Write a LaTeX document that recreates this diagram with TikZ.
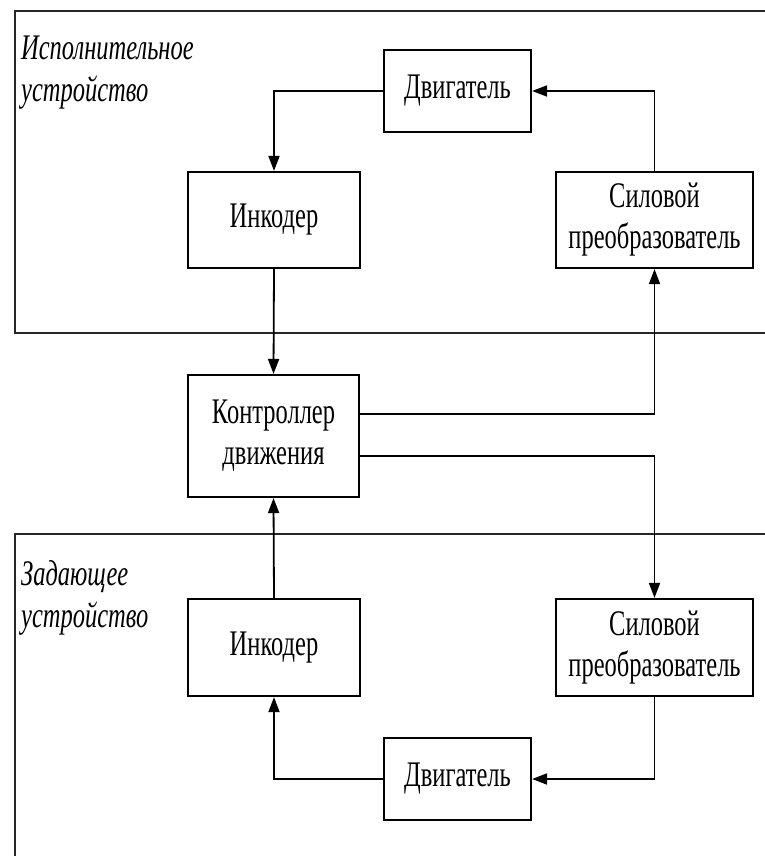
\documentclass[tikz,border=0pt]{standalone}
\usepackage{fontspec}
\setmainfont[FakeStretch=0.68]{Liberation Serif}
\usetikzlibrary{arrows.meta,calc}
\tikzset{
  blk/.style={draw=black, line width=2.2pt, fill=white, align=center, inner sep=0pt,
    font=\fontsize{36}{41}\selectfont},
  conn/.style={draw=black, line width=1.8pt, -{Triangle[length=15pt,width=11pt]}},
  frame/.style={draw=black!85, line width=2.8pt},
  lbl/.style={align=left, inner sep=0pt, anchor=north west,
    font=\fontsize{36}{42}\selectfont\itshape}
}
\begin{document}
\begin{tikzpicture}[x=1pt,y=-1pt]
\useasboundingbox (0,0) rectangle (765,856);
% frames
\draw[frame] (768,11) -- (15,11) -- (15,333) -- (768,333);
\draw[frame] (768,534) -- (15,534) -- (15,860);
% labels
\node[lbl] (lblT) at (21,36) {Исполнительное\\устройство};
\node[lbl] (lblB) at (21,560) {Задающее\\устройство};
% blocks
\node[blk, minimum width=147, minimum height=82] (dvT) at (457.5,91) {Двигатель};
\node[blk, minimum width=172, minimum height=96] (incT) at (274,220) {Инкодер};
\node[blk, minimum width=197, minimum height=96] (silT) at (654.5,220) {Силовой\\преобразователь};
\node[blk, minimum width=171, minimum height=122] (ctl) at (273.5,436) {Контроллер\\движения};
\node[blk, minimum width=172, minimum height=97] (incB) at (274,647.5) {Инкодер};
\node[blk, minimum width=197, minimum height=97] (silB) at (654.5,647.5) {Силовой\\преобразователь};
\node[blk, minimum width=147, minimum height=82] (dvB) at (457.5,779) {Двигатель};
% connectors
\draw[conn] (dvT.west) -| (incT.north);
\draw[conn] (silT.north) |- (dvT.east);
\draw[conn] (incT.south) -- (ctl.north);
\draw[conn] ($(ctl.east)+(0,-22)$) -| (silT.south);
\draw[conn] ($(ctl.east)+(0,20)$) -| (silB.north);
\draw[conn] (silB.south) |- (dvB.east);
\draw[conn] (dvB.west) -| (incB.south);
\draw[conn] (incB.north) -- (ctl.south);
\end{tikzpicture}
\end{document}
